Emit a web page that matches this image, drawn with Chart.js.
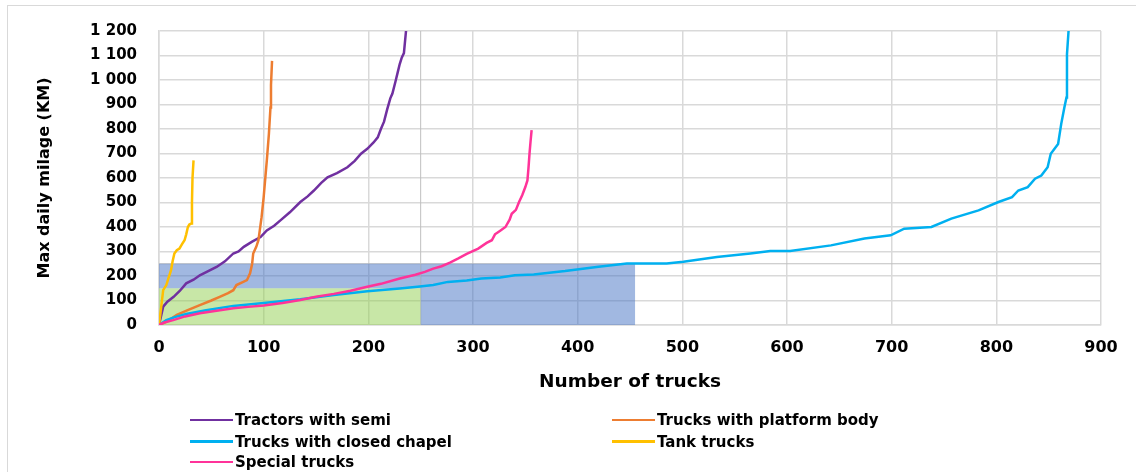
<!DOCTYPE html>
<html lang="en">
<head>
<meta charset="UTF-8">
<title>Max daily milage by truck type</title>
<script src="https://cdn.jsdelivr.net/npm/chart.js"></script>
<style>
  html, body { margin: 0; padding: 0; background: #fff; }
  #wrap { position: relative; width: 1136px; height: 472px; overflow: hidden; }
  #frame { position: absolute; left: 7px; top: 5px; width: 1140px; height: 480px; border: 1.5px solid #D9D9D9; box-sizing: border-box; }
  #chart { position: absolute; left: 0; top: 0; }
  .leg { position: absolute; display: flex; align-items: center; font: bold 15px "DejaVu Sans", sans-serif; color: #000; white-space: nowrap; }
  .leg span.line { display: inline-block; width: 43px; height: 2.5px; margin-right: 2px; }
</style>
</head>
<body>
<div id="wrap">
  <div id="frame"></div>
  <canvas id="chart" width="1136" height="472"></canvas>
  <div id="legend"></div>
</div>
<script>
// x = number of trucks, y = max daily milage (km)
const tractorsX = [0, 4, 8, 14, 20, 26, 33, 39, 47, 55, 63, 71, 76, 81, 89, 97, 103, 110, 116, 125, 135, 142, 148, 155, 161, 170, 180, 187, 193, 199, 205, 209, 212, 215, 218, 221, 223, 226, 228, 230, 232, 234, 236, 238];
const tractorsY = [0, 75, 95, 115, 140, 170, 185, 203, 220, 237, 260, 292, 300, 319, 340, 359, 386, 405, 427, 460, 502, 525, 549, 580, 603, 620, 644, 670, 699, 719, 745, 766, 800, 830, 880, 925, 945, 995, 1030, 1065, 1092, 1110, 1200, 1280];

const platformX = [0, 8, 17, 28, 39, 50, 58, 66, 71, 74, 80, 84, 87, 89, 90, 93, 95, 98, 100, 103, 105, 106.5, 107, 108];
const platformY = [0, 15, 41, 62, 81, 100, 115, 130, 142, 163, 175, 183, 211, 250, 292, 320, 346, 440, 522, 671, 780, 888, 980, 1078];

const chapelX = [0, 7, 15, 26, 45, 71, 100, 135, 167, 199, 230, 247, 262, 276, 294, 308, 326, 340, 358, 388, 420, 447, 485, 501, 533, 565, 584, 603, 642, 674, 699, 712, 738, 757, 783, 802, 815, 821, 830, 837, 843, 849, 852, 859, 862, 865, 867, 867.5, 869, 870];
const chapelY = [0, 20, 32, 45, 60, 78, 90, 105, 122, 138, 149, 156, 163, 176, 182, 190, 194, 203, 206, 220, 238, 251, 251, 258, 278, 292, 302, 302, 325, 353, 366, 393, 400, 434, 468, 502, 522, 549, 563, 597, 610, 644, 699, 739, 821, 888, 929, 1105, 1200, 1300];

const tankX = [0, 2, 4, 7, 9, 11.5, 13, 14.7, 17, 19.5, 22, 24.4, 26, 27.6, 29, 30.8, 31.5, 32, 33];
const tankY = [0, 70, 142, 163, 190, 224, 260, 292, 305, 312, 330, 346, 370, 400, 410, 414, 500, 600, 672];

const specialX = [0, 5, 13.5, 25, 39, 55, 71, 85, 100, 118, 135, 150, 167, 183, 199, 212, 230, 245, 254, 262, 270, 278, 286, 294, 305, 313, 318, 321, 326, 331, 335, 337, 341, 344, 347, 350, 352, 353, 354, 355, 356];
const specialY = [0, 10, 20, 35, 48, 58, 68, 74, 80, 90, 102, 115, 127, 140, 156, 168, 190, 205, 217, 230, 240, 255, 272, 290, 312, 335, 346, 370, 385, 400, 430, 454, 470, 502, 530, 563, 590, 640, 700, 750, 795];

const seriesNames = ['Tractors with semi', 'Trucks with platform body', 'Trucks with closed chapel', 'Tank trucks', 'Special trucks'];
const seriesColors = ['#7030A0', '#ED7D31', '#00B0F0', '#FFC000', '#FF3399'];

// highlighted zones (trucks, km)
const greenZone = { trucks: 250, km: 150 };
const blueZone = { trucks: 455, km: 250 };

const xTicks = { min: 0, max: 900, step: 100 };
const yTicks = { min: 0, max: 1200, step: 100 };

const pts = (xs, ys) => xs.map((x, i) => ({ x: x, y: ys[i] }));

const lineSets = [
  pts(tractorsX, tractorsY),
  pts(platformX, platformY),
  pts(chapelX, chapelY),
  pts(tankX, tankY),
  pts(specialX, specialY)
].map((data, i) => ({
  label: seriesNames[i],
  data: data,
  showLine: true,
  borderColor: seriesColors[i],
  backgroundColor: seriesColors[i],
  borderWidth: 2.5,
  pointRadius: 0,
  tension: 0,
  fill: false,
  order: 5 - i
}));

const zoneSets = [
  { // blue band above green zone
    data: [{ x: 0, y: blueZone.km }, { x: greenZone.trucks, y: blueZone.km }],
    fill: { value: greenZone.km },
    backgroundColor: 'rgba(68,114,196,0.5)'
  },
  { // blue block right of green zone
    data: [{ x: greenZone.trucks, y: 0 }, { x: greenZone.trucks, y: blueZone.km }, { x: blueZone.trucks, y: blueZone.km }, { x: blueZone.trucks, y: 0 }],
    fill: 'origin',
    backgroundColor: 'rgba(68,114,196,0.5)'
  },
  {
    data: [{ x: 0, y: greenZone.km }, { x: greenZone.trucks, y: greenZone.km }],
    fill: 'origin',
    backgroundColor: 'rgba(146,208,80,0.5)'
  }
].map(d => Object.assign(d, { showLine: true, borderWidth: 0, borderColor: 'rgba(0,0,0,0)', pointRadius: 0, order: 10 }));

const guideSets = [
  [{ x: greenZone.trucks, y: yTicks.min }, { x: greenZone.trucks, y: yTicks.max }],
  [{ x: xTicks.min, y: blueZone.km }, { x: xTicks.max, y: blueZone.km }]
].map(data => ({ data: data, showLine: true, borderColor: '#BFBFBF', borderWidth: 1, pointRadius: 0, order: 11 }));

Chart.defaults.font.family = '"DejaVu Sans", sans-serif';
Chart.defaults.font.weight = 'bold';
Chart.defaults.color = '#000';

new Chart(document.getElementById('chart'), {
  type: 'scatter',
  data: { datasets: lineSets.concat(zoneSets, guideSets) },
  options: {
    responsive: false,
    devicePixelRatio: 1,
    animation: false,
    layout: { padding: { left: 35, right: 35, top: 30, bottom: 79 } },
    plugins: { legend: { display: false }, tooltip: { enabled: false } },
    scales: {
      x: {
        type: 'linear',
        min: xTicks.min, max: xTicks.max,
        afterFit: s => { s.height = 68; },
        ticks: { stepSize: xTicks.step, padding: 13, font: { size: 16, weight: 'bold' }, color: '#000' },
        grid: { color: '#D9D9D9', lineWidth: 1.5, drawTicks: false },
        border: { color: '#D9D9D9', width: 1.5 },
        title: { display: true, text: 'Number of trucks', font: { size: 18.5, weight: 'bold' }, color: '#000', padding: 0 }
      },
      y: {
        type: 'linear',
        min: yTicks.min, max: yTicks.max,
        afterFit: s => { s.width = 124; },
        ticks: {
          stepSize: yTicks.step, padding: 22, font: { size: 15, weight: 'bold' }, color: '#000',
          callback: v => v >= 1000 ? Math.floor(v / 1000) + ' ' + String(v % 1000).padStart(3, '0') : String(v)
        },
        grid: { color: '#D9D9D9', lineWidth: 1.5, drawTicks: false },
        border: { color: '#D9D9D9', width: 1.5 },
        title: { display: true, text: 'Max daily milage (KM)', font: { size: 16, weight: 'bold' }, color: '#000', padding: 0 }
      }
    }
  }
});

// legend in two columns like the original
const legendPos = [[190, 420], [612, 420], [190, 441.5], [612, 441.5], [190, 462]];
const legend = document.getElementById('legend');
seriesNames.forEach((name, i) => {
  const item = document.createElement('div');
  item.className = 'leg';
  item.style.left = legendPos[i][0] + 'px';
  item.style.top = (legendPos[i][1] - 11) + 'px';
  item.style.height = '22px';
  item.innerHTML = '<span class="line" style="background:' + seriesColors[i] + '"></span>' + name;
  legend.appendChild(item);
});
</script>
</body>
</html>
